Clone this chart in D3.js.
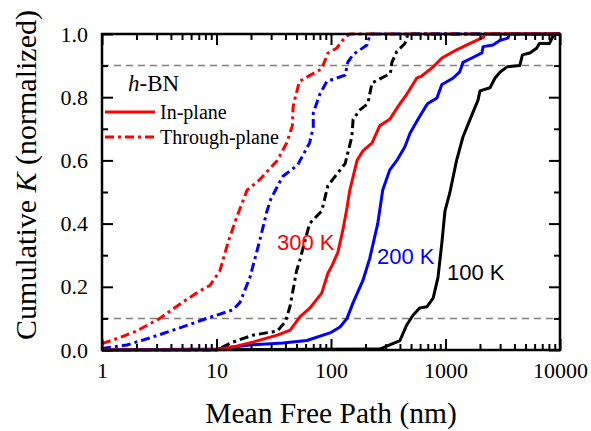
<!DOCTYPE html>
<meta charset="utf-8">
<script src="https://d3js.org/d3.v7.min.js"></script>
<style>
body { margin: 0; background: #fff; }
text { font-family: "Liberation Serif", "Times New Roman", serif; fill: #000; }
.tick line { stroke: #000; stroke-width: 2px; }
.tick text { font-size: 22px; font-family: "Liberation Serif", serif; }
path.curve { fill: none; stroke-width: 3px; stroke-linejoin: round; }
path.dashdot { stroke-dasharray: 9,4,3,4; }
line.guide { stroke: #808080; stroke-width: 1.5px; stroke-dasharray: 7,5; }
</style>
<body>
<script>

// x: mean free path (nm), y: cumulative K (normalized)
var in100 = [[1,0],[267,0.003],[326,0.016],[400,0.03],[460,0.08],[520,0.11],[595,0.133],[690,0.137],[780,0.164],[860,0.23],[930,0.34],[990,0.44],[1090,0.497],[1250,0.6],[1420,0.674],[1700,0.744],[1920,0.79],[2000,0.82],[2450,0.83],[2700,0.86],[3000,0.88],[3450,0.896],[4450,0.9],[4700,0.934],[5450,0.94],[6250,0.955],[6600,0.97],[8100,0.97],[8600,0.99],[9000,1],[10000,1]];
var in200 = [[1,0],[10,0.003],[19.6,0.016],[38,0.022],[61.5,0.03],[98,0.054],[120,0.073],[138,0.1],[156,0.15],[190,0.22],[218,0.29],[256,0.4],[283,0.506],[326,0.57],[376,0.6],[442,0.643],[490,0.686],[575,0.73],[660,0.766],[700,0.78],[840,0.797],[930,0.84],[1160,0.86],[1330,0.88],[1420,0.91],[1700,0.924],[2080,0.94],[2130,0.96],[2600,0.965],[3000,0.98],[3500,0.987],[3650,1],[10000,1]];
var in300 = [[1,0],[10,0],[14,0.01],[20.8,0.025],[34,0.047],[44,0.063],[53.5,0.105],[65.5,0.133],[83,0.18],[94,0.243],[103,0.27],[115,0.31],[127,0.38],[138,0.45],[146,0.506],[169,0.6],[190,0.63],[228,0.655],[267,0.71],[326,0.73],[384,0.77],[460,0.81],[560,0.86],[620,0.867],[780,0.896],[930,0.924],[1250,0.95],[1640,0.97],[2150,0.99],[2200,1],[10000,1]];
var thr100 = [[1,0],[10,0],[13.9,0.025],[20.8,0.047],[34,0.06],[40,0.09],[44,0.14],[50,0.25],[53.5,0.285],[65,0.4],[83,0.44],[94,0.52],[133,0.59],[152,0.675],[156,0.73],[179,0.76],[210,0.78],[228,0.845],[330,0.875],[340,0.91],[376,0.945],[442,0.97],[470,1],[10000,1]];
var thr200 = [[1,0.005],[1.65,0.016],[2.6,0.038],[4.8,0.07],[8.2,0.1],[13.9,0.127],[16,0.15],[19.6,0.23],[24,0.35],[27.6,0.44],[30,0.48],[38,0.55],[51,0.585],[65,0.655],[70,0.705],[70,0.75],[80,0.81],[92,0.85],[133,0.87],[140,0.91],[156,0.935],[206,0.965],[220,1],[10000,1]];
var thr300 = [[1,0.02],[1.45,0.04],[2,0.06],[3.2,0.1],[5,0.15],[7,0.185],[8.8,0.205],[10.7,0.25],[12.6,0.34],[15,0.42],[18.5,0.506],[24,0.54],[34,0.6],[41,0.655],[46,0.71],[46.7,0.77],[48,0.79],[53,0.85],[83,0.89],[94,0.94],[112,0.955],[133,0.99],[146,1],[10000,1]];

var xMajor = [1, 10, 100, 1000, 10000];
var yMajor = [0, 0.2, 0.4, 0.6, 0.8, 1.0];
var yMinor = [0.1, 0.3, 0.5, 0.7, 0.9];
var guides = [0.1, 0.9];

var width = 591, height = 431;
var pL = 102, pR = 560, pT = 34, pB = 350;

var svg = d3.select("body").append("svg")
    .attr("width", width)
    .attr("height", height);

var x = d3.scaleLog().domain([1, 10000]).range([pL, pR]);
var y = d3.scaleLinear().domain([0, 1]).range([pB, pT]);

var xMinor = x.ticks().filter(function(v) { return xMajor.indexOf(v) < 0; });

// guide lines
svg.selectAll("line.guide")
    .data(guides)
    .enter().append("line")
    .attr("class", "guide")
    .attr("x1", pL).attr("x2", pR)
    .attr("y1", d => y(d)).attr("y2", d => y(d));

// curves
var line = d3.line().x(d => x(d[0])).y(d => y(d[1]));
var series = [
  {data: thr100, color: "#000", dash: true},
  {data: in100, color: "#000", dash: false},
  {data: thr200, color: "#0000ff", dash: true},
  {data: in200, color: "#0000ff", dash: false},
  {data: thr300, color: "#ff0000", dash: true},
  {data: in300, color: "#ff0000", dash: false}
];
svg.selectAll("path.curve")
    .data(series)
    .enter().append("path")
    .attr("class", d => d.dash ? "curve dashdot" : "curve")
    .attr("stroke", d => d.color)
    .attr("d", d => line(d.data));

// axes, ticks pointing inward
function strip(g) { g.select(".domain").remove(); }

svg.append("g").attr("transform", "translate(0," + pB + ")")
    .call(d3.axisBottom(x).tickValues(xMajor).tickFormat(d3.format("d")).tickSize(-11).tickPadding(12))
    .call(strip);
svg.append("g").attr("transform", "translate(0," + pB + ")")
    .call(d3.axisBottom(x).tickValues(xMinor).tickFormat("").tickSize(-6))
    .call(strip);
svg.append("g").attr("transform", "translate(0," + pT + ")")
    .call(d3.axisTop(x).tickValues(xMajor).tickFormat("").tickSize(-11))
    .call(strip);
svg.append("g").attr("transform", "translate(0," + pT + ")")
    .call(d3.axisTop(x).tickValues(xMinor).tickFormat("").tickSize(-6))
    .call(strip);

svg.append("g").attr("transform", "translate(" + pL + ",0)")
    .call(d3.axisLeft(y).tickValues(yMajor).tickFormat(d3.format(".1f")).tickSize(-11).tickPadding(14))
    .call(strip);
svg.append("g").attr("transform", "translate(" + pL + ",0)")
    .call(d3.axisLeft(y).tickValues(yMinor).tickFormat("").tickSize(-6))
    .call(strip);
svg.append("g").attr("transform", "translate(" + pR + ",0)")
    .call(d3.axisRight(y).tickValues(yMajor).tickFormat("").tickSize(-11))
    .call(strip);
svg.append("g").attr("transform", "translate(" + pR + ",0)")
    .call(d3.axisRight(y).tickValues(yMinor).tickFormat("").tickSize(-6))
    .call(strip);

svg.selectAll(".tick text").attr("fill", "#000");

// frame
svg.append("rect")
    .attr("x", pL).attr("y", pT)
    .attr("width", pR - pL).attr("height", pB - pT)
    .attr("fill", "none").attr("stroke", "#000").attr("stroke-width", 2.5);

// axis titles
svg.append("text")
    .attr("x", (pL + pR) / 2).attr("y", 423)
    .attr("text-anchor", "middle")
    .style("font-size", "29.5px")
    .text("Mean Free Path (nm)");

var yt = svg.append("text")
    .attr("transform", "translate(36,175) rotate(-90)")
    .attr("text-anchor", "middle")
    .style("font-size", "30px");
yt.append("tspan").text("Cumulative ");
yt.append("tspan").style("font-style", "italic").text("K");
yt.append("tspan").text(" (normalized)");

// legend
var hb = svg.append("text").attr("x", 128).attr("y", 91).style("font-size", "23px");
hb.append("tspan").style("font-style", "italic").text("h");
hb.append("tspan").text("-BN");

var legend = [
  {label: "In-plane", dash: false, y: 112},
  {label: "Through-plane", dash: true, y: 137}
];
var lg = svg.selectAll("g.legend")
    .data(legend)
    .enter().append("g")
    .attr("class", "legend");
lg.append("path")
    .attr("class", d => d.dash ? "curve dashdot" : "curve")
    .attr("stroke", "#ff0000")
    .attr("d", d => "M105," + d.y + "H155");
lg.append("text")
    .attr("x", 160).attr("y", d => d.y + 7)
    .style("font-size", "20px")
    .text(d => d.label);

// temperature labels
var temps = [
  {label: "300 K", color: "#ff0000", x: 277, y: 250},
  {label: "200 K", color: "#0000ff", x: 377, y: 264},
  {label: "100 K", color: "#000", x: 447, y: 280}
];
svg.selectAll("text.temp")
    .data(temps)
    .enter().append("text")
    .attr("class", "temp")
    .attr("x", d => d.x).attr("y", d => d.y)
    .style("font-family", "'Liberation Sans', Arial, sans-serif")
    .style("font-size", "22px")
    .style("fill", d => d.color)
    .text(d => d.label);

</script>
</body>
